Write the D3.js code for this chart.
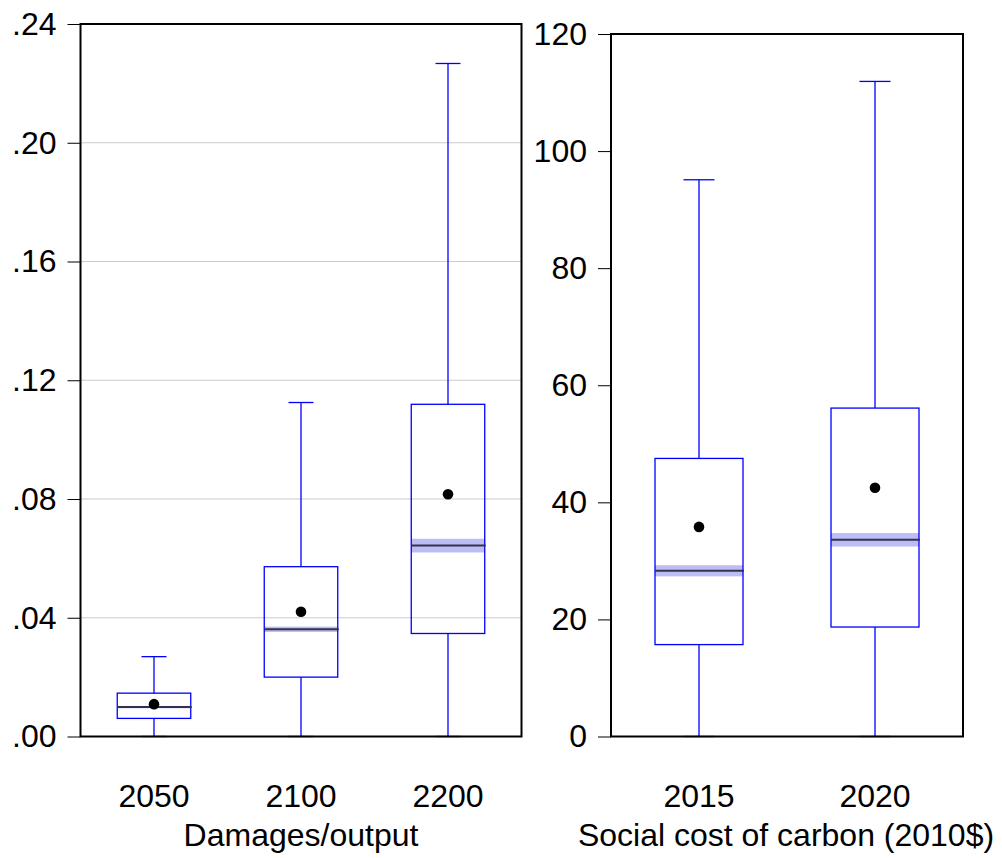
<!DOCTYPE html>
<html><head><meta charset="utf-8">
<script src="https://cdn.jsdelivr.net/npm/d3@7"></script>
<style>body{margin:0;background:#fff}svg{display:block}text{font-family:"Liberation Sans",Arial,sans-serif;fill:#000}</style>
</head><body>
<script>
// Left panel: Damages/output
const damCats = ["2050","2100","2200"];
const damLow = [0, 0, 0];
const damQ1 = [0.0061, 0.0200, 0.0347];
const damMedian = [0.0099, 0.0361, 0.0643];
const damMedCI = [0.0004, 0.0009, 0.0023];
const damQ3 = [0.0146, 0.0572, 0.1119];
const damHigh = [0.0269, 0.1125, 0.2267];
const damMean = [0.0109, 0.0420, 0.0816];
const damTicks = [0, 0.04, 0.08, 0.12, 0.16, 0.20, 0.24];

// Right panel: Social cost of carbon (2010$)
const sccCats = ["2015","2020"];
const sccLow = [0, 0];
const sccQ1 = [15.7, 18.7];
const sccMedian = [28.3, 33.6];
const sccMedCI = [0.95, 1.15];
const sccQ3 = [47.5, 56.1];
const sccHigh = [95.1, 111.9];
const sccMean = [35.8, 42.5];
const sccTicks = [0, 20, 40, 60, 80, 100, 120];

const W = 1002, H = 858, FS = 32;
const svg = d3.select("body").append("svg").attr("width", W).attr("height", H);

function panel(cfg) {
  const g = svg.append("g");
  const x = d3.scaleBand().domain(cfg.cats).range([cfg.x0, cfg.x1]).padding(0);
  const y = d3.scaleLinear().domain(cfg.domain).range([cfg.yb, cfg.yt]);
  if (cfg.grid) {
    g.append("g").selectAll("line").data(cfg.ticks.slice(1, -1)).join("line")
      .attr("x1", cfg.x0).attr("x2", cfg.x1)
      .attr("y1", d => y(d)).attr("y2", d => y(d))
      .attr("stroke", "#cbcbcb").attr("stroke-width", 1.2);
  }
  const data = cfg.cats.map((c, i) => ({c, lo: cfg.low[i], q1: cfg.q1[i], med: cfg.med[i], ci: cfg.ci[i], q3: cfg.q3[i], hi: cfg.high[i], mean: cfg.mean[i]}));
  const bw = x.bandwidth() / 2;
  const cw = cfg.capW;
  const box = g.append("g").selectAll("g").data(data).join("g")
    .attr("transform", d => `translate(${x(d.c) + x.bandwidth() / 2},0)`);
  box.append("line").attr("x1", 0).attr("x2", 0).attr("y1", d => y(d.q3)).attr("y2", d => y(d.hi))
    .attr("stroke", "#0000ff").attr("stroke-width", 1.3);
  box.append("line").attr("x1", 0).attr("x2", 0).attr("y1", d => y(d.q1)).attr("y2", d => y(d.lo))
    .attr("stroke", "#0000ff").attr("stroke-width", 1.3);
  box.append("line").attr("x1", -cw / 2).attr("x2", cw / 2).attr("y1", d => y(d.hi)).attr("y2", d => y(d.hi))
    .attr("stroke", "#0000ff").attr("stroke-width", 1.3);
  box.append("line").attr("x1", -cw / 2).attr("x2", cw / 2).attr("y1", d => y(d.lo)).attr("y2", d => y(d.lo))
    .attr("stroke", "#0000ff").attr("stroke-width", 1.3);
  box.append("rect").attr("x", -bw / 2).attr("width", bw)
    .attr("y", d => y(d.med + d.ci)).attr("height", d => y(d.med - d.ci) - y(d.med + d.ci))
    .attr("fill", "#bcbcf6");
  box.append("rect").attr("x", -bw / 2).attr("width", bw)
    .attr("y", d => y(d.q3)).attr("height", d => y(d.q1) - y(d.q3))
    .attr("fill", "none").attr("stroke", "#0000ff").attr("stroke-width", 1.3);
  box.append("line").attr("x1", -bw / 2).attr("x2", bw / 2 + 1).attr("y1", d => y(d.med)).attr("y2", d => y(d.med))
    .attr("stroke", "#33334a").attr("stroke-width", 2);
  box.append("circle").attr("cx", 0).attr("cy", d => y(d.mean)).attr("r", 5.3).attr("fill", "#000");
  g.append("rect").attr("x", cfg.x0).attr("y", cfg.yt).attr("width", cfg.x1 - cfg.x0).attr("height", cfg.yb - cfg.yt)
    .attr("fill", "none").attr("stroke", "#000").attr("stroke-width", 2);
  const ax = d3.axisLeft(y).tickValues(cfg.ticks).tickFormat(cfg.fmt).tickSize(13).tickPadding(11);
  const ag = g.append("g").attr("transform", `translate(${cfg.x0},0)`).call(ax);
  ag.select(".domain").remove();
  ag.selectAll(".tick line").attr("stroke", "#000").attr("stroke-width", 1);
  ag.selectAll(".tick text").attr("font-size", FS).attr("font-family", '"Liberation Sans",Arial,sans-serif').attr("fill", "#000");
  const xa = d3.axisBottom(x).tickSize(0).tickPadding(0);
  const xg = g.append("g").attr("transform", `translate(0,${cfg.yb})`).call(xa);
  xg.select(".domain").remove();
  xg.selectAll(".tick text").attr("font-size", FS).attr("font-family", '"Liberation Sans",Arial,sans-serif')
    .attr("fill", "#000").attr("dy", null).attr("y", 70);
  g.append("text").attr("x", (cfg.x0 + cfg.x1) / 2 + (cfg.titleDx || 0)).attr("y", 846)
    .attr("text-anchor", "middle").attr("font-size", FS).text(cfg.title);
}

panel({cats: damCats, low: damLow, q1: damQ1, med: damMedian, ci: damMedCI, q3: damQ3, high: damHigh, mean: damMean,
  ticks: damTicks, domain: [0, 0.24], x0: 80.5, x1: 521.5, yt: 24, yb: 736.5, grid: true, capW: 25,
  fmt: d => d3.format(".2f")(d).replace(/^0/, ""), title: "Damages/output"});
panel({cats: sccCats, low: sccLow, q1: sccQ1, med: sccMedian, ci: sccMedCI, q3: sccQ3, high: sccHigh, mean: sccMean,
  ticks: sccTicks, domain: [0, 120], x0: 611, x1: 963, yt: 34, yb: 736.5, grid: false, capW: 31,
  fmt: d3.format("d"), title: "Social cost of carbon (2010$)", titleDx: -1});
</script>
</body></html>
